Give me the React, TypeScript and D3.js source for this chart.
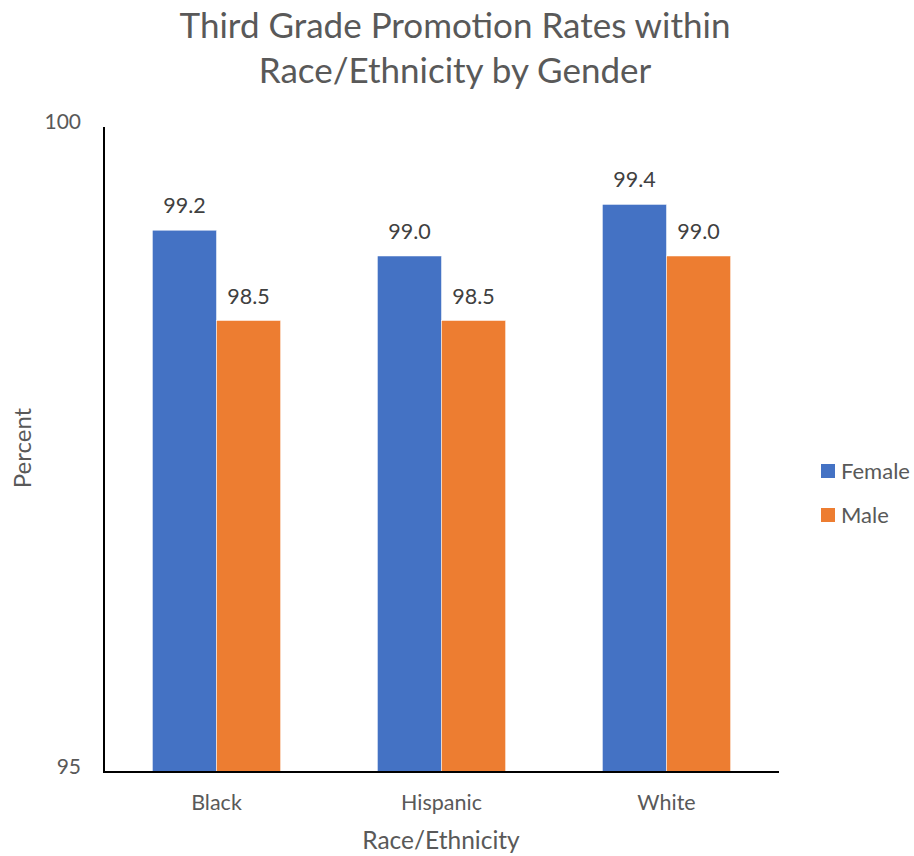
import React from "react";
import { scaleBand, scaleLinear } from "d3";

const categories = ["Black", "Hispanic", "White"];
const series = ["Female", "Male"];
const femaleValues = [99.2, 99.0, 99.4];
const maleValues = [98.5, 98.5, 99.0];
const yTicks = [95, 100];
const colors = ["#4472C4", "#ED7D31"];

const W = 914;
const H = 856;
const font = "Lato, 'Open Sans', sans-serif";
const textColor = "#595959";

export default function App() {
    const left = 104, right = 779, top = 127, bottom = 772;

    const xScale = scaleBand<string>()
        .domain(categories)
        .range([left, right])
        .paddingInner(0.43)
        .paddingOuter(0.215);
    const subScale = scaleBand<string>()
        .domain(series)
        .range([0, xScale.bandwidth()]);
    const yScale = scaleLinear()
        .domain([95, 100])
        .range([bottom, top]);

    const values = [femaleValues, maleValues];

    return (
        <svg width={W} height={H} style={{ position: "absolute", left: 0, top: 0 }}>
            <rect width={W} height={H} fill="#fff" />
            {/* title */}
            <text x={455} y={38} textAnchor="middle" fontFamily={font} fontSize={35} fill={textColor}>
                Third Grade Promotion Rates within
            </text>
            <text x={455} y={83} textAnchor="middle" fontFamily={font} fontSize={35} fill={textColor}>
                Race/Ethnicity by Gender
            </text>

            {/* bars */}
            {series.map((s, si) =>
                categories.map((c, ci) => {
                    const v = values[si][ci];
                    const x = xScale(c)! + subScale(s)!;
                    const y = yScale(v);
                    return (
                        <g key={s + c}>
                            <rect x={x} y={y} width={subScale.bandwidth()} height={bottom - y}
                                  fill={colors[si]} stroke="#fff" strokeWidth={0.5} />
                            <text x={x + subScale.bandwidth() / 2} y={y - 17} textAnchor="middle"
                                  fontFamily={font} fontSize={21.5} fill="#404040">
                                {v.toFixed(1)}
                            </text>
                        </g>
                    );
                })
            )}

            {/* axes */}
            <line x1={left} x2={left} y1={top} y2={bottom + 1} stroke="#000" strokeWidth={2} />
            <line x1={left - 1} x2={right} y1={bottom} y2={bottom} stroke="#000" strokeWidth={2} />

            {yTicks.map(t => (
                <text key={t} x={81} y={yScale(t)} dy="0.1em" textAnchor="end"
                      fontFamily={font} fontSize={21} fill={textColor}>
                    {t}
                </text>
            ))}

            {categories.map(c => (
                <text key={c} x={xScale(c)! + xScale.bandwidth() / 2} y={810} textAnchor="middle"
                      fontFamily={font} fontSize={21.5} fill={textColor}>
                    {c}
                </text>
            ))}

            <text x={441} y={849} textAnchor="middle" fontFamily={font} fontSize={24.5} fill={textColor}>
                Race/Ethnicity
            </text>
            <text transform="translate(31, 448) rotate(-90)" textAnchor="middle"
                  fontFamily={font} fontSize={24} fill={textColor}>
                Percent
            </text>

            {/* legend */}
            {series.map((s, i) => (
                <g key={s} transform={`translate(821, ${464 + i * 44})`}>
                    <rect width={14} height={14} fill={colors[i]} />
                    <text x={20} y={7} dy="0.35em" fontFamily={font} fontSize={22} fill={textColor}>
                        {s}
                    </text>
                </g>
            ))}
        </svg>
    );
}
